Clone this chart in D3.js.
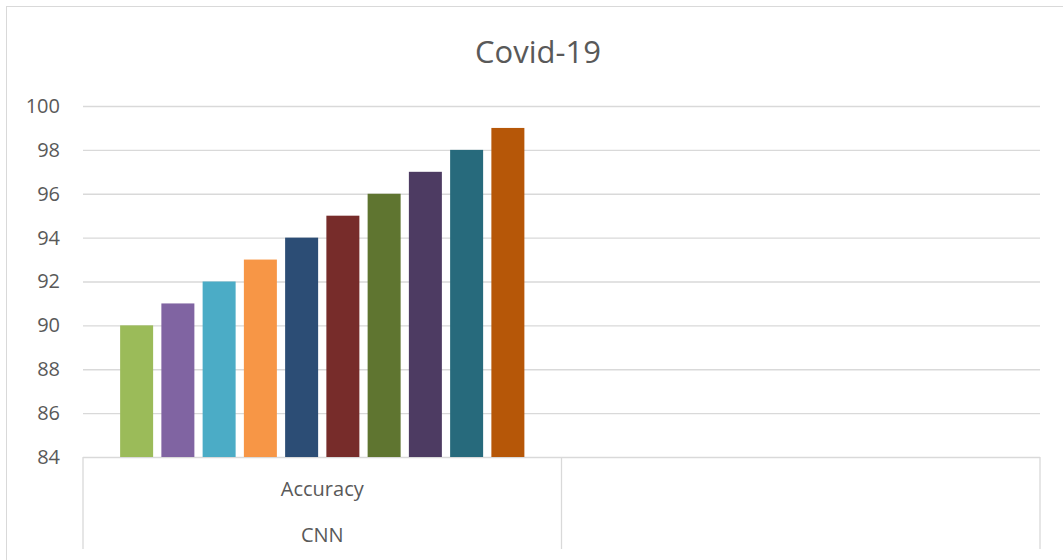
<!DOCTYPE html>
<html>
<head>
<meta charset="utf-8">
<script src="https://cdn.jsdelivr.net/npm/d3@7"></script>
<style>
  body { margin: 0; background: #fff; }
  svg { display: block; font-family: "Open Sans", sans-serif; }
</style>
</head>
<body>
<div id="chart"></div>
<script>
const width = 1063
const height = 560

// data
const groups = ["Accuracy", ""]
const outerGroups = ["CNN", ""]
const series = ["s1", "s2", "s3", "s4", "s5", "s6", "s7", "s8", "s9", "s10"]
const values = [90, 91, 92, 93, 94, 95, 96, 97, 98, 99]
const colors = ["#9BBB59", "#8064A2", "#4BACC6", "#F79646", "#2C4D75",
                "#772C2A", "#5F7530", "#4D3B62", "#276A7C", "#B65708"]
const yTicks = [84, 86, 88, 90, 92, 94, 96, 98, 100]

const margin = {top: 106, right: 23, bottom: 103, left: 83}
const grey = "#d9d9d9"
const textColor = "#595959"

const svg = d3.select("#chart")
  .append("svg")
  .attr("width", width)
  .attr("height", height)

// chart frame
svg.append("rect")
  .attr("x", 6.5).attr("y", 6.5)
  .attr("width", width + 20).attr("height", height + 20)
  .attr("fill", "white")
  .attr("stroke", grey)

svg.append("text")
  .attr("x", 538).attr("y", 63)
  .attr("text-anchor", "middle")
  .attr("font-size", 31)
  .attr("fill", textColor)
  .text("Covid-19")

const x0 = d3.scaleBand()
  .domain(d3.range(groups.length))
  .range([margin.left, width - margin.right])

const x1 = d3.scaleBand()
  .domain(series)
  .range([0, x0.bandwidth()])
  .paddingInner(0.2)
  .paddingOuter(0.9)

const y = d3.scaleLinear()
  .domain([84, 100])
  .range([height - margin.bottom, margin.top])

// gridlines
const yAxis = svg.append("g")
  .attr("transform", `translate(${margin.left},0)`)
  .call(d3.axisLeft(y).tickValues(yTicks).tickSize(-(width - margin.left - margin.right)).tickPadding(23))

yAxis.select(".domain").remove()
yAxis.selectAll(".tick line").attr("stroke", grey).attr("stroke-width", 1.3)
yAxis.selectAll(".tick text")
  .attr("font-size", 20)
  .attr("fill", textColor)
  .attr("font-family", "'Open Sans', sans-serif")

// bars (only first group has data)
svg.append("g")
  .attr("transform", `translate(${x0(0)},0)`)
  .selectAll("rect")
  .data(values)
  .join("rect")
    .attr("x", (d, i) => x1(series[i]))
    .attr("y", d => y(d))
    .attr("width", x1.bandwidth())
    .attr("height", d => y(84) - y(d))
    .attr("fill", (d, i) => colors[i])

// category axis with separators
const axisBottom = y(84)
const axisEnd = 549
const cat = svg.append("g")

cat.selectAll("line.sep")
  .data(d3.range(groups.length + 1))
  .join("line")
    .attr("class", "sep")
    .attr("x1", i => i < groups.length ? x0(i) : x0(groups.length - 1) + x0.bandwidth())
    .attr("x2", i => i < groups.length ? x0(i) : x0(groups.length - 1) + x0.bandwidth())
    .attr("y1", axisBottom)
    .attr("y2", axisEnd)
    .attr("stroke", grey)
    .attr("stroke-width", 1.3)

cat.selectAll("text.inner")
  .data(groups)
  .join("text")
    .attr("class", "inner")
    .attr("x", (d, i) => x0(i) + x0.bandwidth() / 2)
    .attr("y", 496)
    .attr("text-anchor", "middle")
    .attr("font-size", 20)
    .attr("fill", textColor)
    .text(d => d)

cat.selectAll("text.outer")
  .data(outerGroups)
  .join("text")
    .attr("class", "outer")
    .attr("x", (d, i) => x0(i) + x0.bandwidth() / 2)
    .attr("y", 542)
    .attr("text-anchor", "middle")
    .attr("font-size", 20)
    .attr("fill", textColor)
    .text(d => d)
</script>
</body>
</html>
